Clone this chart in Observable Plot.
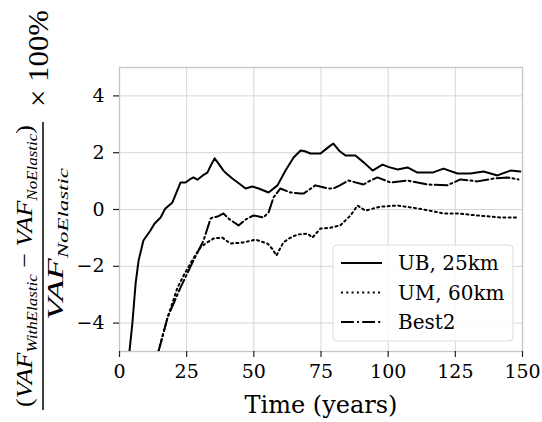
<!DOCTYPE html>
<html>
<head>
<meta charset="utf-8">
<script src="https://cdn.jsdelivr.net/npm/d3@7"></script>
<script src="https://cdn.jsdelivr.net/npm/@observablehq/plot@0.6"></script>
<style>
  html, body { margin: 0; padding: 0; background: white; }
  svg { display: block; }
  .ylab text, .ylab tspan { font-family: "Liberation Serif", serif !important; font-weight: normal !important; }
  .lgd text { font-family: "DejaVu Serif", serif !important; font-weight: normal !important; }
</style>
</head>
<body>
<div id="chart"></div>
<script>
// ---- data ----
const seriesNames = ["UB, 25km", "UM, 60km", "Best2"];

const ubTime = [3.7,4.8,6,7.1,8.9,11.5,13,15.3,17,19.7,22.7,24.6,26,27.5,29,31,32.7,34,35.4,37,38.7,40,42,45,46.9,49.5,51.8,55.5,58.8,61.8,64.8,67.4,69,71.1,74.8,76.5,78.5,79.6,82,84.1,87.8,91,94.2,97.9,100,103.5,107.2,110.9,116.5,120.6,125.8,130.6,135.5,140.7,145.5,149.2];
const ubValue = [-5,-4,-2.6,-1.8,-1.09,-0.74,-0.5,-0.28,0.03,0.25,0.95,0.95,1.05,1.13,1.05,1.2,1.3,1.55,1.8,1.6,1.37,1.25,1.09,0.88,0.74,0.81,0.74,0.6,0.85,1.37,1.83,2.08,2.05,1.97,1.97,2.1,2.25,2.32,2.05,1.9,1.9,1.65,1.37,1.58,1.5,1.41,1.48,1.3,1.3,1.44,1.27,1.27,1.34,1.2,1.37,1.34];

const umTime = [14.5,17.9,21.6,24,26.4,28,30.1,32,35,38.3,41.3,46.1,50.6,55.1,57,58.4,61,63.5,66.2,70,71.8,74.8,78,82.2,86,88.6,91.5,97.1,103.5,110.9,116,120.6,125.8,133.2,141.8,148.5];
const umValue = [-5,-3.8,-2.75,-2.3,-1.9,-1.65,-1.34,-1.2,-1.02,-0.99,-1.2,-1.16,-1.06,-1.2,-1.4,-1.62,-1.16,-1.0,-0.88,-0.85,-0.99,-0.67,-0.65,-0.56,-0.21,0.14,-0.04,0.1,0.14,0.04,-0.05,-0.14,-0.14,-0.21,-0.28,-0.28];

const best2Time = [14.5,17.9,22.7,27.5,31.3,33.9,34.6,36.5,38.7,41,44.3,47,49.9,53.6,55.5,57.3,59.9,63.6,67.4,68.5,72.9,75,77.8,79.6,82,85.2,90.8,93,96,100.9,107.2,114.6,122,126.9,133.2,139.2,144.4,148.5];
const best2Value = [-5,-3.8,-2.75,-1.8,-1.09,-0.32,-0.28,-0.25,-0.14,-0.35,-0.56,-0.35,-0.21,-0.28,-0.1,0.42,0.74,0.6,0.56,0.56,0.85,0.8,0.74,0.74,0.85,1.02,0.88,1.0,1.13,0.95,1.02,0.88,0.85,1.06,0.99,1.09,1.13,1.06];

const xTicks = [0, 25, 50, 75, 100, 125, 150];
const yTicks = [-4, -2, 0, 2, 4];
const xLabel = "Time (years)";

// ---- build ----
const toRows = (ts, vs, name) => ts.map((t, i) => ({t, v: vs[i], name}));
const ub = toRows(ubTime, ubValue, seriesNames[0]);
const um = toRows(umTime, umValue, seriesNames[1]);
const b2 = toRows(best2Time, best2Value, seriesNames[2]);

const dashes = { solid: null, dotted: "2,3.3", dashdot: "12.8,3.2,2,3.2" };
const font = "DejaVu Serif";

const chart = Plot.plot({
  width: 542, height: 422,
  marginLeft: 119, marginRight: 20, marginTop: 67, marginBottom: 71,
  style: { fontFamily: font, fontSize: "19px", background: "white", color: "black" },
  x: { domain: [0, 150], label: null },
  y: { domain: [-5, 5], label: null },
  marks: [
    Plot.gridX(xTicks, { stroke: "#d6d6d6", strokeOpacity: 1, strokeWidth: 1 }),
    Plot.gridY(yTicks, { stroke: "#d6d6d6", strokeOpacity: 1, strokeWidth: 1 }),
    Plot.frame({ stroke: "#c4c4c4", strokeWidth: 1.3 }),
    Plot.axisX(xTicks, { tickSize: 6, tickPadding: 7, fontSize: 19, fontFamily: font, stroke: "#222", strokeWidth: 1.2 }),
    Plot.axisY(yTicks, { tickSize: 6, tickPadding: 9, fontSize: 19, fontFamily: font, stroke: "#222", strokeWidth: 1.2 }),
    Plot.line(ub, { x: "t", y: "v", stroke: "black", strokeWidth: 2, clip: true }),
    Plot.line(um, { x: "t", y: "v", stroke: "black", strokeWidth: 2, strokeDasharray: dashes.dotted, clip: true }),
    Plot.line(b2, { x: "t", y: "v", stroke: "black", strokeWidth: 2, strokeDasharray: dashes.dashdot, clip: true }),
    Plot.text([xLabel], { frameAnchor: "bottom", dy: 61, fontSize: 24, fontFamily: font, fill: "black", lineAnchor: "bottom" })
  ]
});

document.getElementById("chart").appendChild(chart);

const svg = d3.select(chart);

// ---- legend ----
const lg = svg.append("g").attr("class", "lgd").attr("text-anchor", "start");
lg.append("rect").attr("x", 333).attr("y", 245).attr("width", 180).attr("height", 96)
  .attr("rx", 4).attr("fill", "white").attr("fill-opacity", 0.85)
  .attr("stroke", "#dcdcdc").attr("stroke-width", 1);
const legendDash = [dashes.solid, dashes.dotted, dashes.dashdot];
seriesNames.forEach((name, i) => {
  const y = 263 + i * 29.5;
  lg.append("line").attr("x1", 341).attr("x2", 382).attr("y1", y).attr("y2", y)
    .attr("stroke", "black").attr("stroke-width", 2)
    .attr("stroke-dasharray", legendDash[i]);
  lg.append("text").attr("x", 398).attr("y", y + 7).attr("font-size", 20)
    .attr("text-anchor", "start").attr("fill", "black").text(name);
});

// ---- y label (rotated math fraction) ----
const yl = svg.append("g").attr("class", "ylab").attr("fill", "black");
function vtext(x, y) {
  return yl.append("text").attr("transform", `translate(${x},${y}) rotate(-90)`)
    .attr("text-anchor", "start");
}
const num = vtext(32, 407).attr("font-size", 23)
  .attr("textLength", 282).attr("lengthAdjust", "spacingAndGlyphs");
num.append("tspan").text("(");
num.append("tspan").attr("font-style", "italic").text("VAF");
num.append("tspan").attr("font-style", "italic").attr("font-size", 15).attr("dy", 5).text("WithElastic");
num.append("tspan").attr("dy", -5).text(" − ");
num.append("tspan").attr("font-style", "italic").text("VAF");
num.append("tspan").attr("font-style", "italic").attr("font-size", 15).attr("dy", 5).text("NoElastic");
num.append("tspan").attr("dy", -5).text(")");

yl.append("line").attr("x1", 43).attr("x2", 43).attr("y1", 122).attr("y2", 410)
  .attr("stroke", "black").attr("stroke-width", 1.5);

const den = vtext(63, 320).attr("font-size", 23)
  .attr("textLength", 152).attr("lengthAdjust", "spacingAndGlyphs");
den.append("tspan").attr("font-style", "italic").text("VAF");
den.append("tspan").attr("font-style", "italic").attr("font-size", 15).attr("dy", 5).text("NoElastic");

vtext(48, 107).attr("font-size", 30).attr("textLength", 97)
  .attr("lengthAdjust", "spacingAndGlyphs").text("× 100%");
</script>
</body>
</html>
